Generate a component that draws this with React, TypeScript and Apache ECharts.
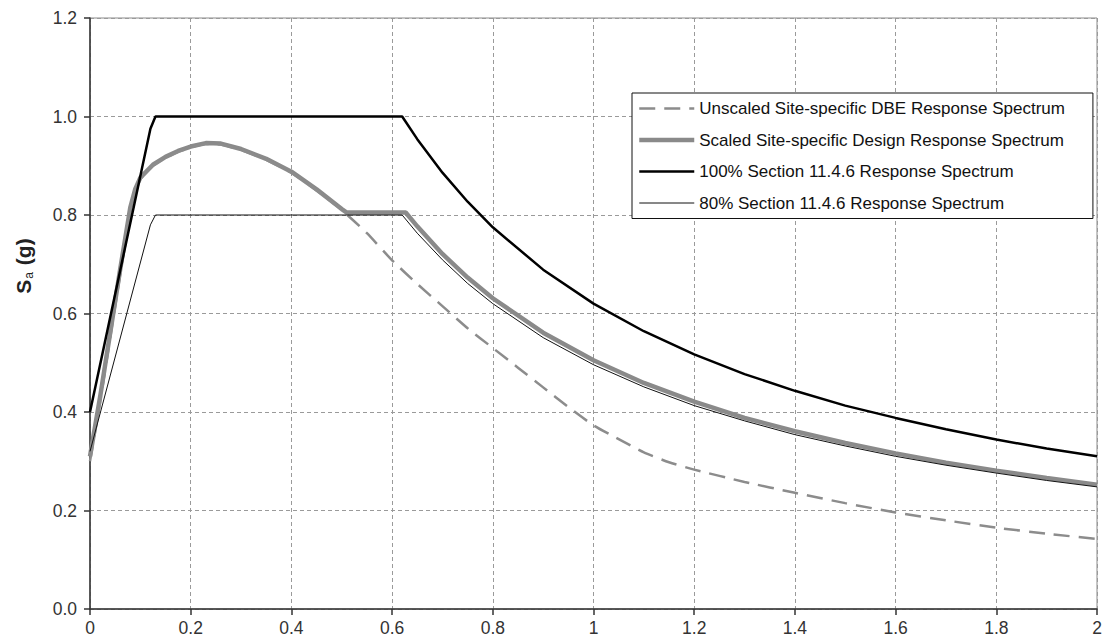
import React, { useEffect, useRef } from "react";
import * as echarts from "echarts";

const seriesNames = [
  "Unscaled Site-specific DBE Response Spectrum",
  "Scaled Site-specific Design Response Spectrum",
  "100% Section 11.4.6 Response Spectrum",
  "80% Section 11.4.6 Response Spectrum",
];

// Period T (s), Sa (g)
const unscaled: [number, number][] = [
  [0, 0.3], [0.02, 0.42], [0.04, 0.55], [0.06, 0.68], [0.08, 0.81], [0.09, 0.85],
  [0.1, 0.873], [0.125, 0.9], [0.15, 0.916], [0.175, 0.928], [0.2, 0.937], [0.23, 0.944],
  [0.26, 0.943], [0.3, 0.932], [0.35, 0.912], [0.4, 0.886], [0.45, 0.85], [0.5, 0.81],
  [0.55, 0.763], [0.6, 0.708], [0.65, 0.66], [0.7, 0.615], [0.75, 0.57], [0.8, 0.53],
  [0.85, 0.49], [0.9, 0.45], [0.95, 0.41], [1.0, 0.373], [1.05, 0.345], [1.1, 0.318],
  [1.15, 0.298], [1.2, 0.283], [1.3, 0.258], [1.4, 0.236], [1.5, 0.215], [1.6, 0.196],
  [1.7, 0.18], [1.8, 0.165], [1.9, 0.153], [2.0, 0.142],
];

const scaled: [number, number][] = [
  [0, 0.31], [0.02, 0.43], [0.04, 0.56], [0.06, 0.69], [0.08, 0.815], [0.09, 0.853],
  [0.1, 0.876], [0.125, 0.902], [0.15, 0.918], [0.175, 0.93], [0.2, 0.939], [0.23, 0.946],
  [0.26, 0.945], [0.3, 0.934], [0.35, 0.914], [0.4, 0.888], [0.45, 0.852], [0.5, 0.812],
  [0.51, 0.805], [0.627, 0.805], [0.65, 0.777], [0.7, 0.721], [0.75, 0.673], [0.8, 0.631],
  [0.9, 0.561], [1.0, 0.505], [1.1, 0.459], [1.2, 0.421], [1.3, 0.388], [1.4, 0.361],
  [1.5, 0.337], [1.6, 0.316], [1.7, 0.297], [1.8, 0.281], [1.9, 0.266], [2.0, 0.2525],
];

const full: [number, number][] = [
  [0, 0.4], [0.12, 0.975], [0.13, 1.0], [0.62, 1.0], [0.65, 0.954], [0.7, 0.886],
  [0.75, 0.827], [0.8, 0.775], [0.9, 0.689], [1.0, 0.62], [1.1, 0.564], [1.2, 0.517],
  [1.3, 0.477], [1.4, 0.443], [1.5, 0.413], [1.6, 0.388], [1.7, 0.365], [1.8, 0.344],
  [1.9, 0.326], [2.0, 0.31],
];

const eighty: [number, number][] = [
  [0, 0.32], [0.12, 0.78], [0.13, 0.8], [0.62, 0.8], [0.65, 0.763], [0.7, 0.709],
  [0.75, 0.661], [0.8, 0.62], [0.9, 0.551], [1.0, 0.496], [1.1, 0.451], [1.2, 0.413],
  [1.3, 0.382], [1.4, 0.354], [1.5, 0.331], [1.6, 0.31], [1.7, 0.292], [1.8, 0.276],
  [1.9, 0.261], [2.0, 0.248],
];

const xMin = 0, xMax = 2, xStep = 0.2;
const yMin = 0, yMax = 1.2, yStep = 0.2;

const FONT = "'Liberation Sans', Arial, sans-serif";

const styles = [
  { color: "#8c8c8c", width: 2.5, type: [16, 9] as any },
  { color: "#8a8a8a", width: 4.5, type: "solid" as any },
  { color: "#000000", width: 2.5, type: "solid" as any },
  { color: "#111111", width: 1, type: "solid" as any },
];

export default function App() {
  const ref = useRef<HTMLDivElement>(null);
  useEffect(() => {
    if (!ref.current) return;
    const chart = echarts.init(ref.current, undefined, { renderer: "svg" });
    const grid = "#9a9a9a";
    const datasets = [unscaled, scaled, full, eighty];
    const zs = [3, 2, 4, 4];
    chart.setOption({
      animation: false,
      backgroundColor: "#ffffff",
      grid: {
        left: 90, right: 9, top: 18, bottom: 34,
        show: true, borderColor: "#8a8a8a", borderWidth: 1,
      },
      legend: {
        orient: "vertical",
        left: 632, top: 93,
        backgroundColor: "#ffffff",
        borderColor: "#111", borderWidth: 1,
        padding: [7, 28, 7, 5],
        itemWidth: 55, itemHeight: 18, itemGap: 14.5,
        itemStyle: { opacity: 0 },
        textStyle: { fontSize: 17, color: "#111", fontFamily: FONT },
        data: seriesNames.map((name, i) => ({
          name,
          lineStyle: { color: styles[i].color, width: styles[i].width, type: styles[i].type },
        })),
      },
      xAxis: {
        type: "value", min: xMin, max: xMax, interval: xStep,
        axisLine: { show: true, onZero: false, lineStyle: { color: "#333", width: 1.5 } },
        axisTick: { show: true, length: 6, lineStyle: { color: "#333", width: 1.5 } },
        axisLabel: {
          fontSize: 17.5, color: "#333", fontFamily: FONT, margin: 10,
          formatter: (v: number) => String(Math.round(v * 10) / 10),
        },
        splitLine: { show: true, lineStyle: { color: grid, type: [4, 3], width: 1 } },
      },
      yAxis: {
        type: "value", min: yMin, max: yMax, interval: yStep,
        axisLine: { show: true, lineStyle: { color: "#333", width: 1.5 } },
        axisTick: { show: true, length: 6, lineStyle: { color: "#333", width: 1.5 } },
        axisLabel: {
          fontSize: 17.5, color: "#333", fontFamily: FONT, margin: 13,
          formatter: (v: number) => v.toFixed(1),
        },
        splitLine: { show: true, lineStyle: { color: grid, type: [4, 3], width: 1 } },
      },
      graphic: [
        {
          type: "text",
          x: 23, y: 266,
          rotation: Math.PI / 2,
          style: {
            text: "{s|S}{sub|a}{s| (g)}",
            align: "center", verticalAlign: "middle",
            fill: "#222",
            rich: {
              s: { fontSize: 21, fontWeight: "bold", fontFamily: FONT, fill: "#222" },
              sub: { fontSize: 12, fontFamily: FONT, fill: "#222", padding: [12, 1, 0, 1] },
            },
          },
        },
      ],
      series: seriesNames.map((name, i) => ({
        name,
        type: "line",
        data: datasets[i],
        showSymbol: false,
        symbol: "none",
        smooth: i === 0 ? 0.2 : false,
        z: zs[i],
        lineStyle: { color: styles[i].color, width: styles[i].width, type: styles[i].type },
        itemStyle: { color: styles[i].color },
      })),
    });
    return () => chart.dispose();
  }, []);
  return (
    <div
      ref={ref}
      style={{ position: "fixed", left: 0, top: 0, width: 1106, height: 643, background: "#fff" }}
    />
  );
}
